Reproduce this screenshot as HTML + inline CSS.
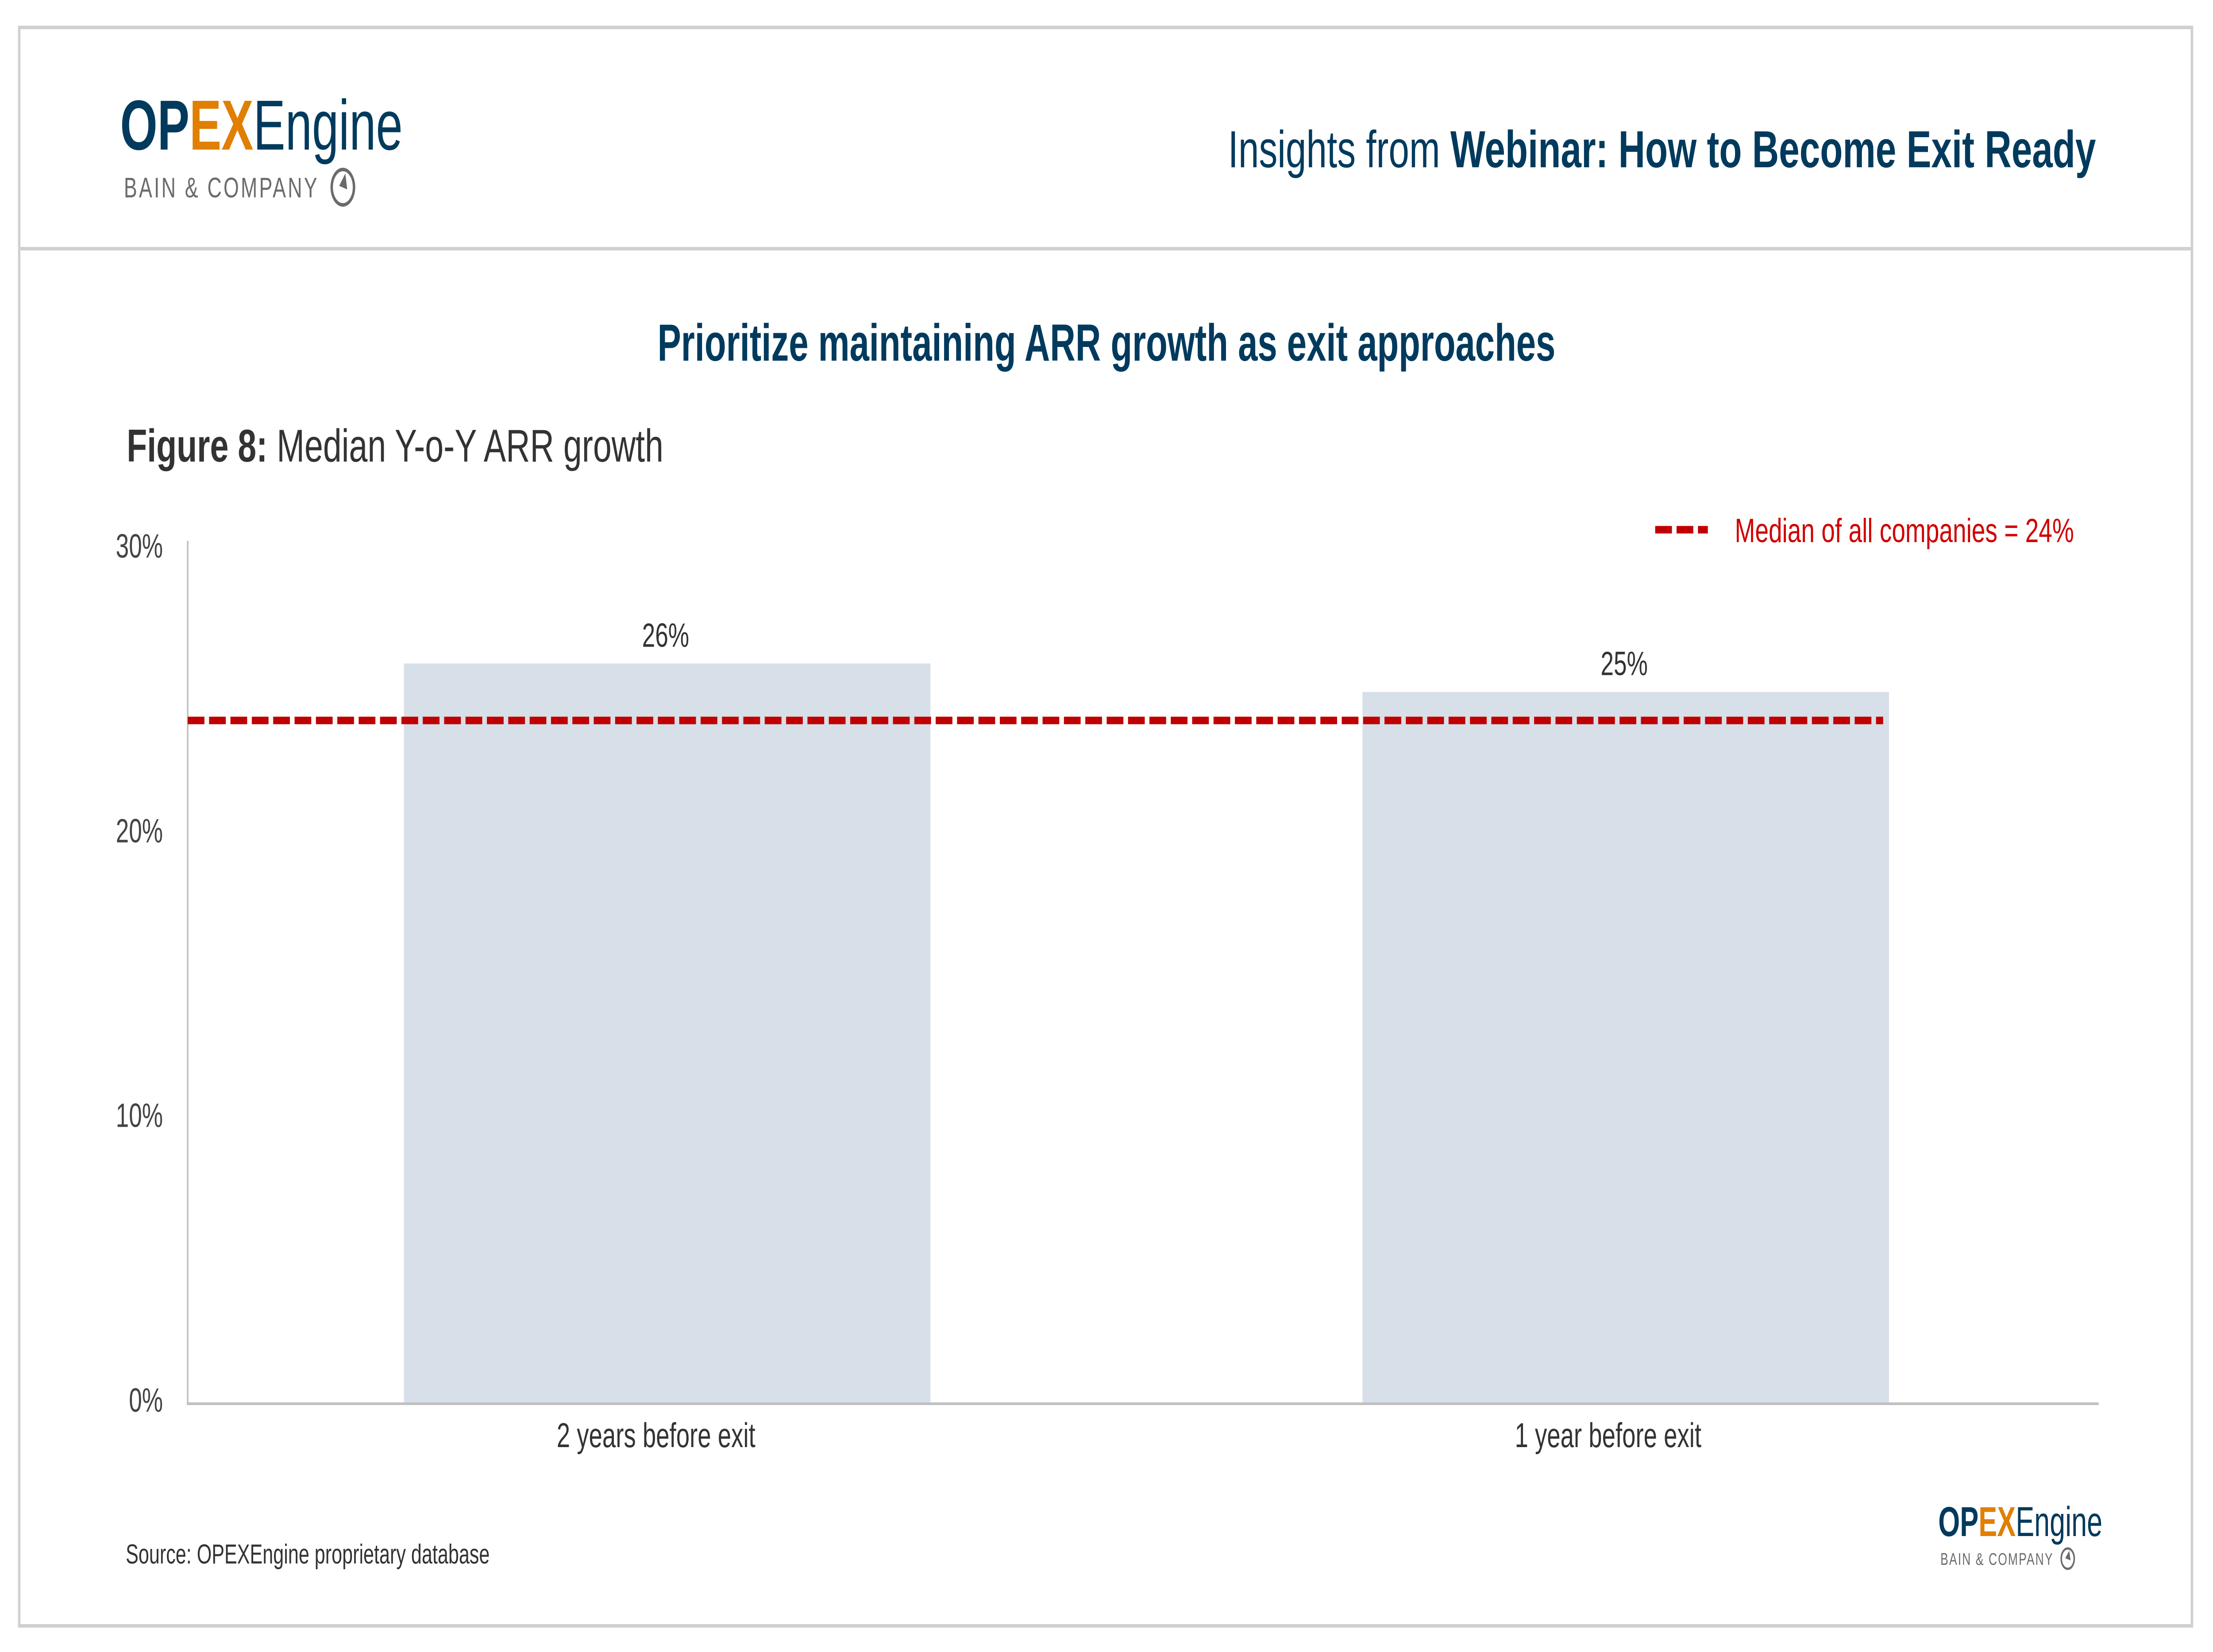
<!DOCTYPE html>
<html><head><meta charset="utf-8">
<style>
html,body{margin:0;padding:0;background:#fff;width:100%;height:100%;overflow:hidden;}
svg{display:block;position:fixed;left:0;top:0;width:100vw;height:100vh;}
text{font-family:"Liberation Sans",sans-serif;}
</style></head>
<body>
<svg id="chart" viewBox="0 0 7145 3733" preserveAspectRatio="none" xmlns="http://www.w3.org/2000/svg">
  <rect x="62" y="62" width="7015" height="3612" fill="#fff" stroke="#d0d0d0" stroke-width="8"/>
  <line x1="62" y1="562" x2="7077" y2="562" stroke="#d0d0d0" stroke-width="8"/>

  <g>
    <text x="388" y="338" font-size="160" textLength="912" lengthAdjust="spacingAndGlyphs"><tspan font-weight="bold" fill="#003a5d">OP</tspan><tspan font-weight="bold" fill="#e07f00">EX</tspan><tspan fill="#003a5d">Engine</tspan></text>
    <text x="400" y="446" font-size="64" fill="#6b6b6b" textLength="630" lengthAdjust="spacingAndGlyphs" letter-spacing="6">BAIN &amp; COMPANY</text>
    <ellipse cx="1107" cy="423" rx="36" ry="40" fill="none" stroke="#6b6b6b" stroke-width="8"/>
    <path d="M1115 392 L1121 428 L1095 420 Z" fill="#6b6b6b"/>
  </g>

  <text x="3965" y="378" font-size="118" fill="#003a5d" textLength="2802" lengthAdjust="spacingAndGlyphs">Insights from <tspan font-weight="bold">Webinar: How to Become Exit Ready</tspan></text>

  <text x="2123" y="815" font-size="118" font-weight="bold" fill="#003a5d" textLength="2899" lengthAdjust="spacingAndGlyphs">Prioritize maintaining ARR growth as exit approaches</text>

  <text x="409" y="1043" font-size="104" fill="#333" textLength="1733" lengthAdjust="spacingAndGlyphs"><tspan font-weight="bold">Figure 8:</tspan> Median Y-o-Y ARR growth</text>

  <g>
    <line x1="5344" y1="1197" x2="5514" y2="1197" stroke="#c00000" stroke-width="17" stroke-dasharray="54 15"/>
    <text x="5601" y="1225" font-size="76" fill="#d00000" textLength="1095" lengthAdjust="spacingAndGlyphs">Median of all companies = 24%</text>
  </g>

  <g id="plot"></g>

  <text x="406" y="3533" font-size="62" fill="#333" textLength="1175" lengthAdjust="spacingAndGlyphs">Source: OPEXEngine proprietary database</text>

  <g>
    <text x="6258" y="3471" font-size="95" textLength="530" lengthAdjust="spacingAndGlyphs"><tspan font-weight="bold" fill="#003a5d">OP</tspan><tspan font-weight="bold" fill="#e07f00">EX</tspan><tspan fill="#003a5d">Engine</tspan></text>
    <text x="6265" y="3536" font-size="38" fill="#6b6b6b" textLength="365" lengthAdjust="spacingAndGlyphs" letter-spacing="3">BAIN &amp; COMPANY</text>
    <ellipse cx="6676" cy="3522" rx="21" ry="23" fill="none" stroke="#6b6b6b" stroke-width="5"/>
    <path d="M6681 3504 L6685 3526 L6668 3521 Z" fill="#6b6b6b"/>
  </g>
</svg>
<script>
const categories = ["2 years before exit", "1 year before exit"];
const growthValues = [26, 25];
const valueLabels = ["26%", "25%"];
const tickValues = [0, 10, 20, 30];
const tickLabels = ["0%", "10%", "20%", "30%"];
const medianValue = [24];

const NS = "http://www.w3.org/2000/svg";
const plot = document.getElementById("plot");
const X0 = 606, X1 = 6776, Y0 = 3172, Y30 = 1242;
const yScale = v => Y0 - (v / 30) * (Y0 - Y30);
const barW = 1700;
const xCenter = i => X0 + (0.2509 + i * 0.5016) * (X1 - X0);
function mk(tag, attrs){ const e = document.createElementNS(NS, tag); for (const k in attrs) e.setAttribute(k, attrs[k]); plot.appendChild(e); return e; }

categories.forEach((c, i) => {
  const cx = xCenter(i);
  const r = mk("rect", {x: cx - barW/2, y: yScale(growthValues[i]), width: barW, height: Y0 - yScale(growthValues[i]), fill: "#d7dfe8"});
  
  
  const t = mk("text", {x: cx - 5, y: yScale(growthValues[i]) - 38, "font-size": 76, fill: "#333", "text-anchor": "middle"});
  t.textContent = valueLabels[i];
  
  
  const xl = mk("text", {x: cx + (i === 0 ? -36 : -57), y: 3270, "font-size": 78, fill: "#333", "text-anchor": "middle"});
  xl.textContent = c;
  
  
});

tickValues.forEach((v, i) => {
  const t = mk("text", {x: 526, y: yScale(v) + 18, "font-size": 76, fill: "#444", "text-anchor": "end"});
  t.textContent = tickLabels[i];
  
  
});

const ya = mk("line", {x1: 606, y1: 1222, x2: 606, y2: Y0, stroke: "#c0c0c0", "stroke-width": 5});


const xa = mk("line", {x1: 603, y1: Y0, x2: X1, y2: Y0, stroke: "#c0c0c0", "stroke-width": 6});



const ml = mk("line", {x1: 606, y1: yScale(medianValue[0]), x2: 6080, y2: yScale(medianValue[0]), stroke: "#c00000", "stroke-width": 17, "stroke-dasharray": "54 15"});


</script>
</body></html>
